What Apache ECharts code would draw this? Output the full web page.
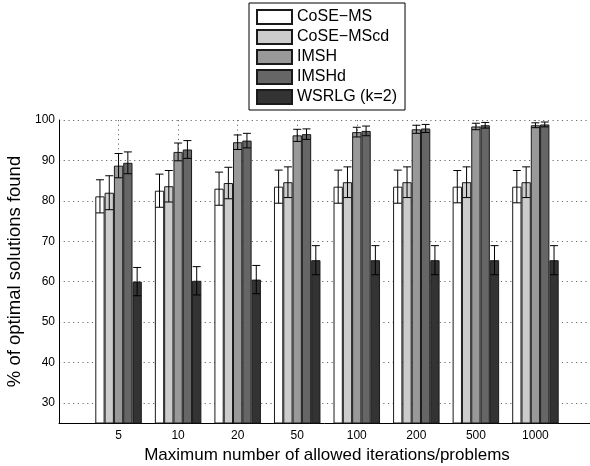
<!DOCTYPE html>
<html>
<head>
<meta charset="utf-8">
<script src="https://cdn.jsdelivr.net/npm/echarts@6/dist/echarts.min.js"></script>
<style>
  html, body { margin: 0; padding: 0; background: #fff; }
  #chart { width: 590px; height: 466px; }
</style>
</head>
<body>
<div id="chart"></div>
<script>
// Iteration budgets shown along the x axis
const categories = ['5', '10', '20', '50', '100', '200', '500', '1000'];

// Mean % of optimal solutions found, one array per method
const coseMs      = [81.1, 82.5, 83.0, 83.5, 83.5, 83.5, 83.5, 83.5];
const coseMscd    = [82.0, 83.6, 84.4, 84.6, 84.6, 84.6, 84.6, 84.6];
const imsh        = [88.7, 92.1, 94.5, 96.2, 97.0, 97.7, 98.4, 98.7];
const imshd       = [89.4, 92.7, 94.9, 96.5, 97.3, 97.9, 98.7, 98.9];
const wsrlg       = [60.0, 60.2, 60.5, 65.3, 65.3, 65.3, 65.3, 65.3];

// Half-length of each error bar
const coseMsErr   = [4.1, 4.1, 4.1, 4.1, 4.1, 4.1, 4.0, 4.0];
const coseMscdErr = [4.2, 3.9, 3.9, 3.8, 3.8, 3.8, 3.8, 3.8];
const imshErr     = [3.0, 2.2, 1.8, 1.5, 1.2, 1.0, 0.8, 0.6];
const imshdErr    = [2.7, 2.2, 1.8, 1.3, 1.2, 1.0, 0.7, 0.6];
const wsrlgErr    = [3.5, 3.5, 3.5, 3.6, 3.6, 3.6, 3.6, 3.6];

const methodNames = ['CoSE\u2212MS', 'CoSE\u2212MScd', 'IMSH', 'IMSHd', 'WSRLG (k=2)'];
const methodMeans = [coseMs, coseMscd, imsh, imshd, wsrlg];
const methodErrs  = [coseMsErr, coseMscdErr, imshErr, imshdErr, wsrlgErr];
const fills = ['#ffffff', '#cccccc', '#999999', '#666666', '#333333'];

const FONT = "'Liberation Sans', Arial, Helvetica, sans-serif";
const BAR_W = 9.3;   // px per bar
const CAP_W = 8;     // px width of error-bar caps

const chart = echarts.init(document.getElementById('chart'), null, { renderer: 'canvas' });

const series = [];
methodNames.forEach((name, s) => {
  series.push({
    name: name,
    type: 'bar',
    barWidth: BAR_W,
    barGap: '0%',
    z: 2,
    itemStyle: { color: fills[s], borderColor: '#1a1a1a', borderWidth: 1 },
    emphasis: { disabled: true },
    data: methodMeans[s].map((v, i) => [i + 1, v])
  });
});

// Error bars drawn on top of the bars, offset to each bar's slot
methodNames.forEach((name, s) => {
  series.push({
    type: 'custom',
    z: 5,
    silent: true,
    data: methodMeans[s].map((v, i) => [i + 1, v, methodErrs[s][i]]),
    renderItem: function (params, api) {
      const x = api.value(0), m = api.value(1), e = api.value(2);
      const hi = api.coord([x, m + e]);
      const lo = api.coord([x, m - e]);
      const cx = hi[0] + (s - 2) * BAR_W;
      const style = { stroke: '#000', lineWidth: 1 };
      return {
        type: 'group',
        children: [
          { type: 'line', shape: { x1: cx, y1: hi[1], x2: cx, y2: lo[1] }, style: style },
          { type: 'line', shape: { x1: cx - CAP_W / 2, y1: hi[1], x2: cx + CAP_W / 2, y2: hi[1] }, style: style },
          { type: 'line', shape: { x1: cx - CAP_W / 2, y1: lo[1], x2: cx + CAP_W / 2, y2: lo[1] }, style: style }
        ]
      };
    }
  });
});

const gridDots = { color: '#6a6a6a', width: 1, type: [1.2, 3.5] };

chart.setOption({
  animation: false,
  backgroundColor: '#ffffff',
  textStyle: { fontFamily: FONT },
  grid: { left: 59, right: -5, top: 120, bottom: 43, outerBoundsMode: 'none', containLabel: false },
  legend: {
    data: methodNames,
    orient: 'vertical',
    left: 249,
    top: 3,
    padding: [6, 8, 5, 7],
    borderColor: '#000',
    borderWidth: 1,
    itemWidth: 35,
    itemHeight: 14,
    itemGap: 4,
    icon: 'rect',
    selectedMode: false,
    textStyle: { fontFamily: FONT, fontSize: 16, color: '#000' }
  },
  xAxis: {
    type: 'value',
    min: 0,
    max: 9,
    interval: 1,
    name: 'Maximum number of allowed iterations/problems',
    nameLocation: 'middle',
    nameGap: 21,
    nameTextStyle: { fontFamily: FONT, fontSize: 17, color: '#000' },
    axisLine: { show: true, lineStyle: { color: '#000', width: 1 } },
    axisTick: { show: false },
    axisLabel: {
      fontFamily: FONT, fontSize: 12, color: '#000', margin: 7,
      formatter: v => (v >= 1 && v <= categories.length && Number.isInteger(v)) ? categories[v - 1] : ''
    },
    splitLine: { show: true, lineStyle: gridDots }
  },
  yAxis: {
    type: 'value',
    min: 25,
    max: 100,
    splitNumber: 8,
    name: '% of optimal solutions found',
    nameLocation: 'middle',
    nameGap: 31,
    nameTextStyle: { fontFamily: FONT, fontSize: 18.5, color: '#000' },
    axisLine: { show: true, lineStyle: { color: '#000', width: 1 } },
    axisTick: { show: false },
    axisLabel: {
      fontFamily: FONT, fontSize: 12, color: '#000', margin: 4,
      formatter: v => (v % 10 === 0) ? String(v) : ''
    },
    splitLine: { show: true, lineStyle: gridDots }
  },
  series: series
});
</script>
</body>
</html>
